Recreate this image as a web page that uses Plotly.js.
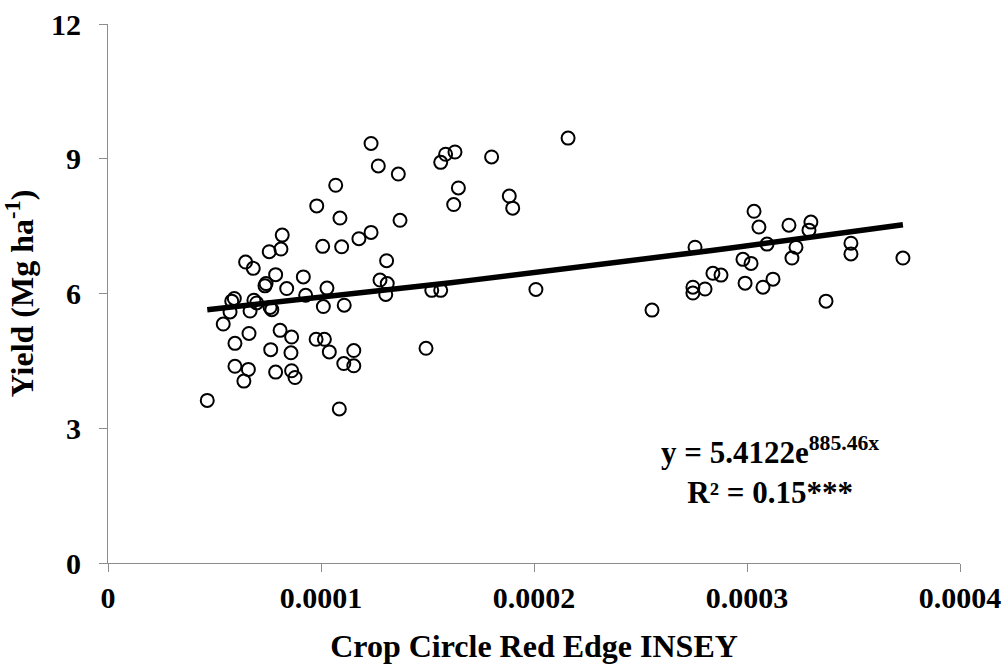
<!DOCTYPE html>
<html>
<head>
<meta charset="utf-8">
<script src="https://cdn.plot.ly/plotly-3.0.1.min.js"></script>
<style>html,body{margin:0;padding:0;background:#fff;}#chart{width:1008px;height:664px;}</style>
</head>
<body>
<div id="chart"></div>
<script>
// Crop Circle Red Edge INSEY (x) and Yield, Mg/ha (y)
const insey = [
  0.0000466,0.0000541,0.0000593,0.0000581,0.0000573,0.0000596,0.0000596,0.0000646,0.0000682,0.0000638,
  0.0000659,0.0000662,0.0000667,0.0000685,0.0000698,0.0000742,0.0000737,0.0000757,0.0000761,0.0000769,
  0.0000764,0.0000787,0.0000787,0.0000808,0.0000812,0.0000818,0.0000839,0.0000862,0.0000859,0.0000862,
  0.0000878,0.0000917,0.0000928,0.0000980,0.0000977,0.0001016,0.0001008,0.0001011,0.0001028,0.0001039,
  0.0001069,0.0001089,0.0001097,0.0001109,0.0001107,0.0001086,0.0001154,0.0001154,0.0001178,0.0001235,
  0.0001235,0.0001269,0.0001277,0.0001308,0.0001304,0.0001311,0.0001363,0.0001371,0.0001493,0.0001520,
  0.0001562,0.0001562,0.0001585,0.0001629,0.0001623,0.0001645,0.0001801,0.0001884,0.0001900,0.0002009,
  0.0002160,0.0002554,0.0002756,0.0002746,0.0002746,0.0002803,0.0002840,0.0002878,0.0002981,0.0003019,
  0.0002991,0.0003033,0.0003056,0.0003094,0.0003075,0.0003122,0.0003197,0.0003230,0.0003211,0.0003291,
  0.0003300,0.0003371,0.0003488,0.0003488,0.0003732
];
const yieldVals = [
  3.62,5.32,5.89,5.83,5.59,4.89,4.38,6.70,6.56,4.05,
  4.31,5.11,5.61,5.85,5.79,6.22,6.17,6.93,5.69,5.64,
  4.75,6.42,4.25,5.18,6.99,7.30,6.11,5.03,4.68,4.28,
  4.13,6.37,5.96,7.95,4.98,4.98,7.05,5.71,6.12,4.70,
  8.41,7.68,7.04,5.74,4.44,3.43,4.73,4.39,7.22,9.34,
  7.36,8.84,6.30,6.73,5.98,6.22,8.66,7.63,4.78,6.07,
  6.07,8.92,9.10,9.15,7.98,8.35,9.04,8.17,7.90,6.09,
  9.46,5.63,7.03,6.14,6.01,6.10,6.45,6.41,6.76,6.67,
  6.23,7.83,7.48,7.10,6.14,6.32,7.52,7.03,6.79,7.41,
  7.59,5.83,7.12,6.88,6.79
];
// Fitted exponential trend: y = a * exp(b * x)
const fitA = 5.4122;
const fitB = 885.46;
const xTickVals = [0, 0.0001, 0.0002, 0.0003, 0.0004];
const xTickText = ['0', '0.0001', '0.0002', '0.0003', '0.0004'];
const yTickVals = [0, 3, 6, 9, 12];
const yTickText = ['0', '3', '6', '9', '12'];

const xMin = Math.min(...insey), xMax = Math.max(...insey);
const trendX = [], trendY = [];
for (let i = 0; i <= 40; i++) {
  const x = xMin + (xMax - xMin) * i / 40;
  trendX.push(x);
  trendY.push(fitA * Math.exp(fitB * x));
}

const font = 'Liberation Serif, Times New Roman, serif';
const data = [
  {
    x: insey, y: yieldVals, type: 'scatter', mode: 'markers',
    marker: {symbol: 'circle-open', size: 13, color: '#000', line: {width: 2, color: '#000'}},
    hoverinfo: 'x+y', showlegend: false
  },
  {
    x: trendX, y: trendY, type: 'scatter', mode: 'lines',
    line: {color: '#000', width: 5.5}, hoverinfo: 'skip', showlegend: false
  }
];

const layout = {
  width: 1008, height: 664,
  margin: {l: 108, r: 48, t: 24, b: 101},
  paper_bgcolor: '#fff', plot_bgcolor: '#fff',
  font: {family: font, color: '#000'},
  xaxis: {
    range: [0, 0.0004], tickvals: xTickVals, ticktext: xTickText,
    showgrid: false, zeroline: false, showline: true, linecolor: '#8c8c8c', linewidth: 1,
    ticks: 'outside', ticklen: 8, tickcolor: '#8c8c8c', tickwidth: 1,
    tickfont: {family: font, size: 30, weight: 'bold', color: '#000'},
    title: {text: 'Crop Circle Red Edge INSEY', font: {family: font, size: 32, weight: 'bold', color: '#000'}, standoff: 21},
    automargin: false
  },
  yaxis: {
    range: [0, 12], tickvals: yTickVals, ticktext: yTickText,
    showgrid: false, zeroline: false, showline: true, linecolor: '#8c8c8c', linewidth: 1,
    ticks: 'outside', ticklen: 8, tickcolor: '#8c8c8c', tickwidth: 1, ticklabelstandoff: 12,
    tickfont: {family: font, size: 30, weight: 'bold', color: '#000'},
    title: {text: 'Yield (Mg ha<sup>-1</sup>)', font: {family: font, size: 32, weight: 'bold', color: '#000'}, standoff: 10},
    automargin: false
  },
  annotations: [
    {
      x: 0.000311, y: 2.07, xref: 'x', yref: 'y', showarrow: false,
      text: 'y = 5.4122e<sup>885.46x</sup><br>R² = 0.15***', align: 'center',
      font: {family: font, size: 31, weight: 'bold', color: '#000'}
    }
  ]
};

Plotly.newPlot('chart', data, layout, {displayModeBar: false, staticPlot: true});
</script>
</body>
</html>
